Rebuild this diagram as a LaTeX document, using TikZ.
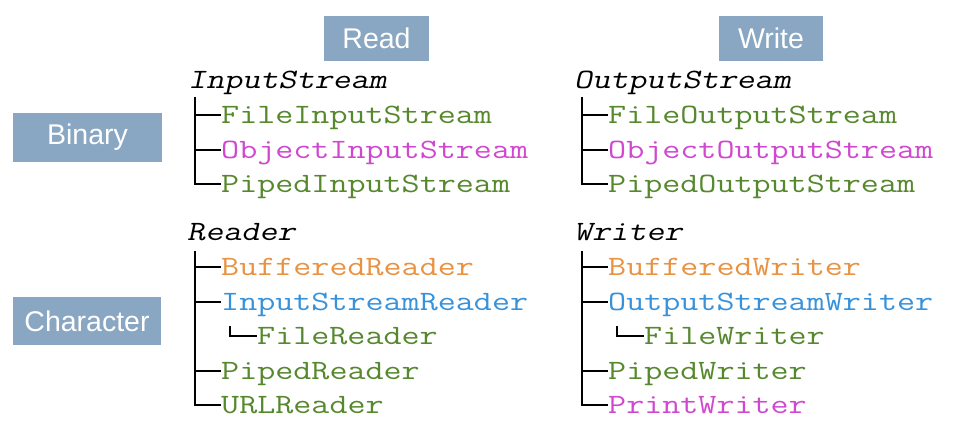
\documentclass[tikz,border=0pt]{standalone}
\usepackage{fontspec}
\setmainfont{Liberation Sans}
\setmonofont[FakeStretch=1.252]{Latin Modern Mono}
\newfontfamily\obliquemono[FakeStretch=1.252,FakeSlant=0.21]{Latin Modern Mono}
\usepackage{tikz}
\usetikzlibrary{positioning}
\definecolor{boxblue}{RGB}{137,167,194}
\definecolor{clsgreen}{RGB}{86,136,46}
\definecolor{clspink}{RGB}{208,72,208}
\definecolor{clsorange}{RGB}{232,146,66}
\definecolor{clsblue}{RGB}{56,146,218}
\tikzset{
  tag/.style={fill=boxblue, text=white, inner sep=0pt,
    font=\fontsize{28.5}{30}\selectfont},
  cls/.style={anchor=base west, inner sep=0pt, text height=20pt, text depth=4pt,
    font=\ttfamily\fontsize{28}{30}\selectfont},
  rootcls/.style={cls, font=\obliquemono\fontsize{28}{30}\selectfont},
  tree/.style={line width=2.5pt, black}
}

\begin{document}
\begin{tikzpicture}[x=1pt,y=-1pt]
    \useasboundingbox (0,0) rectangle (953,434);
    % column and row headers
    \node [tag, minimum width=105pt, minimum height=45pt] (read) at (376.5,38.5) {Read};
    \node [tag, minimum width=104pt, minimum height=45pt] (write) at (771,38.5) {Write};
    \node [tag, minimum width=149pt, minimum height=49pt] (binary) at (87.5,137.5) {Binary};
    \node [tag, minimum width=148pt, minimum height=48pt] (character) at (87,321) {Character};

    % binary, read side
    \node [rootcls] (inStream) at (188,88) {InputStream};
    \node [cls, text=clsgreen] (fileIn) at (221,123) {FileInputStream};
    \node [cls, text=clspink] (objectIn) at (221,158) {ObjectInputStream};
    \node [cls, text=clsgreen] (pipedIn) at (221,192) {PipedInputStream};
    \coordinate (inTop) at (195,97);
    \draw [tree] (inTop) |- (fileIn.west);
    \draw [tree] (inTop) |- (objectIn.west);
    \draw [tree] (inTop) |- (pipedIn.west);

    % binary, write side
    \node [rootcls] (outStream) at (574,88) {OutputStream};
    \node [cls, text=clsgreen] (fileOut) at (608,123) {FileOutputStream};
    \node [cls, text=clspink] (objectOut) at (608,158) {ObjectOutputStream};
    \node [cls, text=clsgreen] (pipedOut) at (608,192) {PipedOutputStream};
    \coordinate (outTop) at (582,97);
    \draw [tree] (outTop) |- (fileOut.west);
    \draw [tree] (outTop) |- (objectOut.west);
    \draw [tree] (outTop) |- (pipedOut.west);

    % character, read side
    \node [rootcls] (reader) at (187,240) {Reader};
    \node [cls, text=clsorange] (bufReader) at (221,275) {BufferedReader};
    \node [cls, text=clsblue] (isReader) at (221,310) {InputStreamReader};
    \node [cls, text=clsgreen] (fileReader) at (257,344) {FileReader};
    \node [cls, text=clsgreen] (pipedReader) at (221,379) {PipedReader};
    \node [cls, text=clsgreen] (urlReader) at (221,413) {URLReader};
    \coordinate (readerTop) at (195,251);
    \draw [tree] (readerTop) |- (bufReader.west);
    \draw [tree] (readerTop) |- (isReader.west);
    \draw [tree] (readerTop) |- (pipedReader.west);
    \draw [tree] (readerTop) |- (urlReader.west);
    \coordinate (isrTop) at (230,326);
    \draw [tree] (isrTop) |- (fileReader.west);

    % character, write side
    \node [rootcls] (writer) at (574,240) {Writer};
    \node [cls, text=clsorange] (bufWriter) at (608,275) {BufferedWriter};
    \node [cls, text=clsblue] (osWriter) at (608,310) {OutputStreamWriter};
    \node [cls, text=clsgreen] (fileWriter) at (644,344) {FileWriter};
    \node [cls, text=clsgreen] (pipedWriter) at (608,379) {PipedWriter};
    \node [cls, text=clspink] (printWriter) at (608,413) {PrintWriter};
    \coordinate (writerTop) at (582,251);
    \draw [tree] (writerTop) |- (bufWriter.west);
    \draw [tree] (writerTop) |- (osWriter.west);
    \draw [tree] (writerTop) |- (pipedWriter.west);
    \draw [tree] (writerTop) |- (printWriter.west);
    \coordinate (oswTop) at (617,326);
    \draw [tree] (oswTop) |- (fileWriter.west);
\end{tikzpicture}
\end{document}
